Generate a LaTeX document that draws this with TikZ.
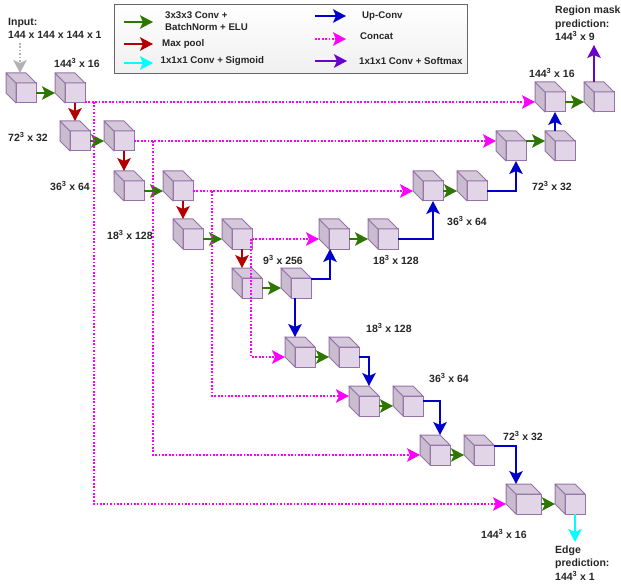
\documentclass[tikz,border=0pt]{standalone}
\usepackage{fontspec}
\setmainfont{Liberation Sans}
\usetikzlibrary{arrows.meta, positioning, calc}

\definecolor{cubeline}{HTML}{9673A6}
\definecolor{cubefront}{HTML}{E1D5E7}
\definecolor{cubetop}{HTML}{D4C8DA}
\definecolor{cubeside}{HTML}{C8BCCE}
\definecolor{convgreen}{HTML}{2D7600}
\definecolor{poolred}{HTML}{B20000}
\definecolor{upblue}{HTML}{0000CC}
\definecolor{softpurple}{HTML}{6A00CC}
\definecolor{concatpink}{HTML}{FF00FF}
\definecolor{sigmcyan}{HTML}{00FFFF}

\begin{document}
\begin{tikzpicture}[
    x=1pt, y=-1pt,
    font=\fontsize{10.5}{13.5}\selectfont\bfseries,
    node distance=29pt,
    cube/.style={
      draw=cubeline, fill=cubefront, line width=1pt,
      minimum width=20pt, minimum height=20pt,
      inner sep=0pt, outer sep=0pt
    },
    face/.style={draw=cubeline, line width=1pt, line join=round},
    lbl/.style={anchor=west, align=left, inner sep=0pt, text=black!85},
    leg/.style={lbl, font=\fontsize{9.7}{12.5}\selectfont\bfseries},
    tip/.style={-{Stealth[length=13pt, width=13.5pt, inset=3pt]}, line width=1.7pt},
    conv/.style={tip, draw=convgreen},
    pool/.style={tip, draw=poolred},
    upconv/.style={tip, draw=upblue},
    sigm/.style={tip, draw=sigmcyan},
    softm/.style={tip, draw=softpurple},
    concat/.style={tip, draw=concatpink, dash pattern=on 1.7pt off 1.7pt},
    inflow/.style={tip, draw=black!30, dash pattern=on 1.7pt off 1.7pt}
  ]
  \useasboundingbox (0,0) rectangle (621,588);

  % legend
  \node[draw=black!60, line width=1pt, top color=white, bottom color=black!6,
    minimum width=353pt, minimum height=69pt, inner sep=0pt, anchor=north west] (legend) at (114,4) {};
  \coordinate (lg1) at (124,22);  \coordinate (lg2) at (153,22);
  \coordinate (lr1) at (124,44);  \coordinate (lr2) at (153,44);
  \coordinate (lc1) at (124,63);  \coordinate (lc2) at (153,63);
  \coordinate (lb1) at (315,16);  \coordinate (lb2) at (346,16);
  \coordinate (lm1) at (315,39);  \coordinate (lm2) at (346,39);
  \coordinate (lp1) at (315,61);  \coordinate (lp2) at (347,61);
  \draw[conv] (lg1) -- (lg2);
  \draw[pool] (lr1) -- (lr2);
  \draw[sigm] (lc1) -- (lc2);
  \draw[upconv] (lb1) -- (lb2);
  \draw[concat] (lm1) -- (lm2);
  \draw[softm] (lp1) -- (lp2);
  \node[leg] (t1) at (165,21) {3x3x3 Conv +\\BatchNorm + ELU};
  \node[leg] (t2) at (162,44) {Max pool};
  \node[leg] (t3) at (160.5,61) {1x1x1 Conv + Sigmoid};
  \node[leg] (t4) at (362,16) {Up-Conv};
  \node[leg] (t5) at (360,36) {Concat};
  \node[leg] (t6) at (359,61) {1x1x1 Conv + Softmax};

  % cubes, named by their front face
  \node[cube] (a) at (26,93) {};
  \node[cube, right=of a] (b) {};
  \node[cube] (c) at (80,141) {};
  \node[cube, right=24pt of c] (d) {};
  \node[cube] (e) at (134,191) {};
  \node[cube, right=of e] (f) {};
  \node[cube] (g) at (193,239) {};
  \node[cube, right=of g] (h) {};
  \node[cube] (i) at (252,288) {};
  \node[cube, right=of i] (j) {};
  \node[cube] (k) at (305,357) {};
  \node[cube, right=24pt of k] (l) {};
  \node[cube] (m) at (369,406) {};
  \node[cube, right=24pt of m] (n) {};
  \node[cube] (o) at (440,455) {};
  \node[cube, right=24pt of o] (p) {};
  \node[cube, minimum width=25pt] (q) at (528.5,504) {};
  \node[cube, right=24pt of q] (r) {};
  \node[cube] (s) at (339,239) {};
  \node[cube, right=of s] (t) {};
  \node[cube] (u) at (433,191) {};
  \node[cube, right=24pt of u] (v) {};
  \node[cube] (w) at (516,151) {};
  \node[cube, right=of w] (x) {};
  \node[cube] (y) at (555,102) {};
  \node[cube, right=of y] (z) {};

  \foreach \n in {a,b,c,d,e,f,g,h,i,j,k,l,m,n,o,p,q,r,s,t,u,v,w,x,y,z} {
    \filldraw[face, fill=cubeside] (\n.north west) -- ++(-10,-10) -- ++(0,20) -- (\n.south west) -- cycle;
    \filldraw[face, fill=cubetop] (\n.north west) -- ++(-10,-10) -- ($(\n.north east)+(-10,-10)$) -- (\n.north east) -- cycle;
    \coordinate (\n top) at ([yshift=10pt]\n.north);
    \coordinate (\n back) at ([xshift=-10pt]\n.west);
  }

  % free ends and branch points
  \coordinate (inp) at (20,43);
  \coordinate (mask) at (594,45);
  \coordinate (edge) at (575,542);
  \coordinate (busa) at (94,102);
  \coordinate (busb) at (153,141);
  \coordinate (busc) at (212,191);
  \coordinate (busd) at (251,239);

  \draw[inflow] (inp) -- ([xshift=-6pt]atop);

  \draw[conv] (a) -- (bback);
  \draw[conv] (c) -- (dback);
  \draw[conv] (e) -- (fback);
  \draw[conv] (g) -- (hback);
  \draw[conv] (i) -- (jback);
  \draw[conv] (k) -- (lback);
  \draw[conv] (m) -- (nback);
  \draw[conv] (o) -- (pback);
  \draw[conv] (q) -- (rback);
  \draw[conv] (s) -- (tback);
  \draw[conv] (u) -- (vback);
  \draw[conv] ([yshift=10pt]w.east) -- ([yshift=10pt]xback);
  \draw[conv] (y) -- (zback);

  \draw[pool] (b.south) -- (b.south |- ctop);
  \draw[pool] (d.south) -- (d.south |- etop);
  \draw[pool] (f.south) -- (f.south |- gtop);
  \draw[pool] (h.south) -- (h.south |- itop);

  \draw[upconv] ([yshift=9pt]j.east) -| ([xshift=1pt]s.south west);
  \draw[upconv] (t.east) -| (u.south);
  \draw[upconv] (v.east) -| (w.south);
  \draw[upconv] ([xshift=-10pt]xtop) -- (y.south);
  \draw[upconv] ([xshift=-6pt]j.south) -- ([yshift=10pt]k.north west);
  \draw[upconv] (l.east) -| (mtop);
  \draw[upconv] ([yshift=5pt]n.east) -| (otop);
  \draw[upconv] ([yshift=9pt]p.east) -| ([xshift=-12.5pt]qtop);

  \draw[softm] ([xshift=-10pt]ztop) -- (mask);
  \draw[sigm] (r.south) -- (edge);

  \draw[concat] ([yshift=1pt]b.south east) -- (yback);
  \draw[concat] (busa) |- (qback);
  \draw[concat] (d.east) -- ([yshift=10pt]wback);
  \draw[concat] (busb) |- (oback);
  \draw[concat] (f.east) -- (uback);
  \draw[concat] (busc) |- ([yshift=10pt]mback);
  \draw[concat] (h.east) -- (sback);
  \draw[concat] (busd) |- (kback);

  % sizes
  \node[lbl] (l1) at (8,28.5) {Input:\\144 x 144 x 144 x 1};
  \node[lbl] (l2) at (54,63) {144\textsuperscript{3} x 16};
  \node[lbl] (l3) at (8,137) {72\textsuperscript{3} x 32};
  \node[lbl] (l4) at (50,186) {36\textsuperscript{3} x 64};
  \node[lbl] (l5) at (107,235) {18\textsuperscript{3} x 128};
  \node[lbl] (l6) at (263,260) {9\textsuperscript{3} x 256};
  \node[lbl] (l7) at (373,260) {18\textsuperscript{3} x 128};
  \node[lbl] (l8) at (366,328) {18\textsuperscript{3} x 128};
  \node[lbl] (l9) at (429,378) {36\textsuperscript{3} x 64};
  \node[lbl] (l10) at (503,436) {72\textsuperscript{3} x 32};
  \node[lbl] (l11) at (481,534) {144\textsuperscript{3} x 16};
  \node[lbl] (l12) at (555,563) {Edge\\prediction:\\144\textsuperscript{3} x 1};
  \node[lbl] (l13) at (555,23.5) {Region mask\\prediction:\\144\textsuperscript{3} x 9};
  \node[lbl] (l14) at (529,73) {144\textsuperscript{3} x 16};
  \node[lbl] (l15) at (532,186) {72\textsuperscript{3} x 32};
  \node[lbl] (l16) at (447,221) {36\textsuperscript{3} x 64};
\end{tikzpicture}
\end{document}
